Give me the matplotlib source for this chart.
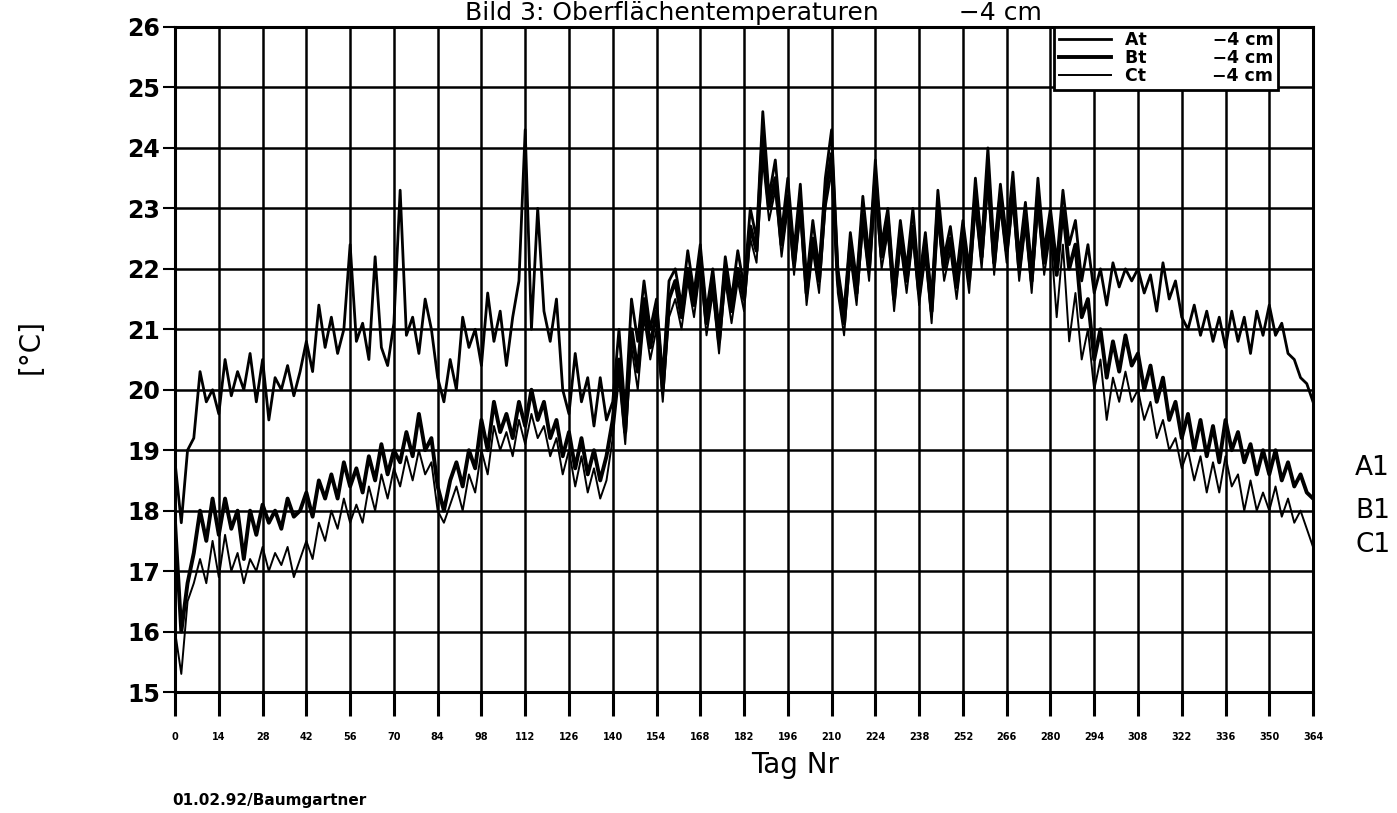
import matplotlib
matplotlib.use("Agg")
import matplotlib.pyplot as plt

# days (every 2nd day) and the three surface temperature series
days = list(range(0, 365, 2))

temp_a = [
    18.8, 17.8, 19.0, 19.2, 20.3, 19.8, 20.0, 19.6, 20.5, 19.9, 20.3,
    20.0, 20.6, 19.8, 20.5, 19.5, 20.2, 20.0, 20.4, 19.9, 20.3,
    20.8, 20.3, 21.4, 20.7, 21.2, 20.6, 21.0, 22.4, 20.8, 21.1,
    20.5, 22.2, 20.7, 20.4, 21.1, 23.3, 20.9, 21.2, 20.6, 21.5,
    21.0, 20.2, 19.8, 20.5, 20.0, 21.2, 20.7, 21.0, 20.4, 21.6,
    20.8, 21.3, 20.4, 21.2, 21.8, 24.3, 21.0, 23.0, 21.3, 20.8,
    21.5, 20.0, 19.6, 20.6, 19.8, 20.2, 19.4, 20.2, 19.5, 19.8,
    21.0, 19.6, 21.5, 20.8, 21.8, 21.0, 21.5, 20.2, 21.8, 22.0,
    21.4, 22.3, 21.6, 22.4, 21.3, 22.0, 21.0, 22.2, 21.5, 22.3,
    21.7, 23.0, 22.5, 24.6, 23.2, 23.8, 22.6, 23.5, 22.3, 23.4,
    21.8, 22.8, 22.0, 23.5, 24.3, 22.0, 21.3, 22.6, 21.8, 23.2,
    22.2, 23.8, 22.4, 23.0, 21.7, 22.8, 22.0, 23.0, 21.8, 22.6,
    21.5, 23.3, 22.2, 22.7, 21.9, 22.8, 22.0, 23.5, 22.4, 24.0,
    22.3, 23.4, 22.5, 23.6, 22.2, 23.1, 22.0, 23.5, 22.3, 23.0,
    22.1, 23.3, 22.4, 22.8, 21.8, 22.4, 21.6, 22.0, 21.4, 22.1,
    21.7, 22.0, 21.8, 22.0, 21.6, 21.9, 21.3, 22.1, 21.5, 21.8,
    21.2, 21.0, 21.4, 20.9, 21.3, 20.8, 21.2, 20.7, 21.3, 20.8,
    21.2, 20.6, 21.3, 20.9, 21.4, 20.9, 21.1, 20.6, 20.5, 20.2,
    20.1, 19.8,
]

temp_b = [
    17.8, 16.0, 16.8, 17.3, 18.0, 17.5, 18.2, 17.6, 18.2, 17.7, 18.0,
    17.2, 18.0, 17.6, 18.1, 17.8, 18.0, 17.7, 18.2, 17.9, 18.0,
    18.3, 17.9, 18.5, 18.2, 18.6, 18.2, 18.8, 18.4, 18.7, 18.3,
    18.9, 18.5, 19.1, 18.6, 19.0, 18.8, 19.3, 18.9, 19.6, 19.0,
    19.2, 18.4, 18.0, 18.5, 18.8, 18.4, 19.0, 18.7, 19.5, 19.0,
    19.8, 19.3, 19.6, 19.2, 19.8, 19.4, 20.0, 19.5, 19.8, 19.2,
    19.5, 18.9, 19.3, 18.7, 19.2, 18.6, 19.0, 18.5, 18.9, 19.5,
    20.5, 19.3, 21.0, 20.3, 21.5, 20.7, 21.3, 20.0, 21.5, 21.8,
    21.2, 22.0, 21.4, 22.2, 21.1, 21.8, 20.8, 22.0, 21.3, 22.0,
    21.5, 22.7, 22.3, 24.2, 23.0, 23.5, 22.4, 23.2, 22.1, 23.1,
    21.6, 22.5, 21.8, 23.2, 23.9, 21.8, 21.1, 22.4, 21.6, 22.9,
    22.0, 23.5, 22.2, 22.8, 21.5, 22.6, 21.8, 22.7, 21.6, 22.4,
    21.3, 23.0, 22.0, 22.5, 21.7, 22.6, 21.8, 23.2, 22.2, 23.6,
    22.1, 23.2, 22.3, 23.3, 22.0, 22.9, 21.8, 23.2, 22.1, 22.8,
    21.9, 23.0, 22.0, 22.4, 21.2, 21.5, 20.5, 21.0, 20.2, 20.8,
    20.3, 20.9, 20.4, 20.6, 20.0, 20.4, 19.8, 20.2, 19.5, 19.8,
    19.2, 19.6, 19.0, 19.5, 18.9, 19.4, 18.8, 19.5, 19.0, 19.3,
    18.8, 19.1, 18.6, 19.0, 18.6, 19.0, 18.5, 18.8, 18.4, 18.6,
    18.3, 18.2,
]

temp_c = [
    16.0, 15.3, 16.5, 16.8, 17.2, 16.8, 17.5, 16.9, 17.6, 17.0, 17.3,
    16.8, 17.2, 17.0, 17.4, 17.0, 17.3, 17.1, 17.4, 16.9, 17.2,
    17.5, 17.2, 17.8, 17.5, 18.0, 17.7, 18.2, 17.8, 18.1, 17.8,
    18.4, 18.0, 18.6, 18.2, 18.7, 18.4, 18.9, 18.5, 19.0, 18.6,
    18.8, 18.0, 17.8, 18.1, 18.4, 18.0, 18.6, 18.3, 19.0, 18.6,
    19.4, 19.0, 19.3, 18.9, 19.5, 19.1, 19.6, 19.2, 19.4, 18.9,
    19.2, 18.6, 19.0, 18.4, 18.9, 18.3, 18.7, 18.2, 18.5, 19.2,
    20.2, 19.1, 20.7, 20.0, 21.2, 20.5, 21.0, 19.8, 21.2, 21.5,
    21.0, 21.8, 21.2, 22.0, 20.9, 21.6, 20.6, 21.8, 21.1, 21.8,
    21.3, 22.5, 22.1, 23.8, 22.8, 23.3, 22.2, 23.0, 21.9, 22.9,
    21.4, 22.3, 21.6, 23.0, 23.6, 21.6, 20.9, 22.2, 21.4, 22.7,
    21.8, 23.3, 22.0, 22.6, 21.3, 22.4, 21.6, 22.5, 21.4, 22.2,
    21.1, 22.8, 21.8, 22.3, 21.5, 22.4, 21.6, 23.0, 22.0, 23.4,
    21.9, 23.0, 22.1, 23.1, 21.8, 22.7, 21.6, 23.0, 21.9, 22.6,
    21.2, 22.4, 20.8, 21.6, 20.5, 21.0, 20.0, 20.5, 19.5, 20.2,
    19.8, 20.3, 19.8, 20.0, 19.5, 19.8, 19.2, 19.5, 19.0, 19.2,
    18.7, 19.0, 18.5, 18.9, 18.3, 18.8, 18.3, 18.9, 18.4, 18.6,
    18.0, 18.5, 18.0, 18.3, 18.0, 18.4, 17.9, 18.2, 17.8, 18.0,
    17.7, 17.4,
]

x_ticks = list(range(0, 365, 14))
y_ticks = list(range(15, 27))

fig = plt.figure(figsize=(13.97, 8.13), dpi=100)
ax = fig.add_axes([0.1253, 0.1488, 0.8146, 0.818])

la, = ax.plot(days, temp_a, color="black", lw=2.0, label="At           \u22124 cm")
lb, = ax.plot(days, temp_b, color="black", lw=2.8, label="Bt           \u22124 cm")
lc, = ax.plot(days, temp_c, color="black", lw=1.4, label="Ct           \u22124 cm")

ax.set_xlim(0, 364)
ax.set_ylim(15, 26)
ax.set_xticks(x_ticks)
ax.set_yticks(y_ticks)
ax.set_xticklabels([str(t) for t in x_ticks], fontsize=7, fontweight="bold")
ax.set_yticklabels([str(t) for t in y_ticks], fontsize=17, fontweight="bold")
ax.tick_params(axis="x", direction="out", length=17, width=2.2, pad=12)
ax.tick_params(axis="y", direction="out", length=9, width=1.5, pad=2)
ax.grid(True, color="black", lw=1.8)
for s in ax.spines.values():
    s.set_linewidth(2.2)

ax.set_xlabel("Tag Nr", fontsize=20, labelpad=0)
ax.xaxis.set_label_coords(0.545, -0.088)
ax.set_ylabel("[°C]", fontsize=20)
ax.yaxis.set_label_coords(-0.115, 0.52)

leg = ax.legend(handles=[la, lb, lc], loc="upper right",
                bbox_to_anchor=(0.969, 1.0), borderaxespad=0,
                prop={"size": 12.5, "weight": "bold"}, handlelength=3.0,
                labelspacing=0.0, fancybox=False, framealpha=1,
                edgecolor="black", borderpad=0.25)
leg.get_frame().set_linewidth(2)

fig.text(0.539, 0.999, "Bild 3: Oberflächentemperaturen          \u22124 cm",
         ha="center", va="top", fontsize=18)
fig.text(0.970, 0.424, "A1", fontsize=19, va="center")
fig.text(0.970, 0.372, "B1", fontsize=19, va="center")
fig.text(0.970, 0.330, "C1", fontsize=19, va="center")
fig.text(0.123, 0.010, "01.02.92/Baumgartner", fontsize=11, fontweight="bold")

fig.savefig("out.png", dpi=100)
